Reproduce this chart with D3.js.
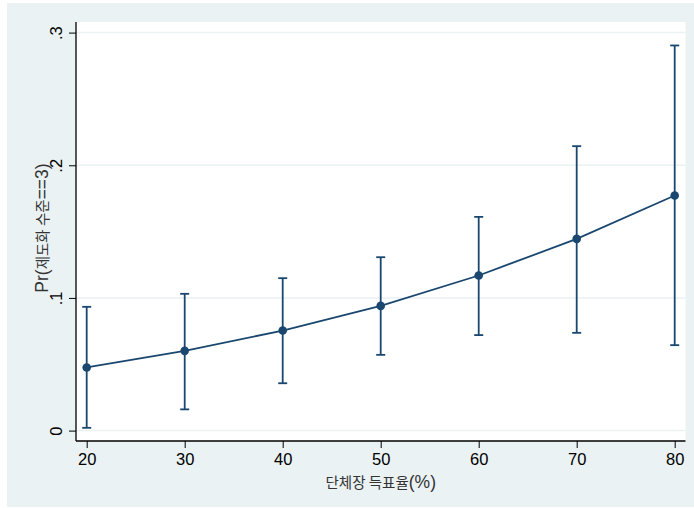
<!DOCTYPE html>
<html>
<head>
<meta charset="utf-8">
<script src="https://cdn.jsdelivr.net/npm/d3@7"></script>
<style>
  html, body { margin: 0; padding: 0; background: #ffffff; }
  svg { display: block; }
  text { font-family: "Liberation Sans", Arial, "Noto Sans CJK KR", sans-serif; }
</style>
</head>
<body>
<svg id="chart" width="694" height="508"></svg>
<script>
// Predicted probability of institutionalisation level 3 by vote share, with 95% CIs
const voteShare = [20, 30, 40, 50, 60, 70, 80];
const prob      = [0.0476, 0.0601, 0.0754, 0.0940, 0.1169, 0.1445, 0.1772];
const ciLow     = [0.0021, 0.0160, 0.0357, 0.0571, 0.0720, 0.0737, 0.0644];
const ciHigh    = [0.0933, 0.1031, 0.1149, 0.1307, 0.1611, 0.2144, 0.2903];
const xTicks    = [20, 30, 40, 50, 60, 70, 80];
const yTicks    = [0, 0.1, 0.2, 0.3];
const yTickText = ["0", ".1", ".2", ".3"];
// axis titles split into Latin / Hangul runs so each can get its own size
const xTitleParts = [["단체장 득표율", "ko"], ["(%)", "latin"]];
const yTitleParts = [["Pr(", "latin"], ["제도화 수준", "ko"], ["==3)", "latin"]];

const navy = "#1a476f";
const bg = "#eaf2f3";

const svg = d3.select("#chart");

// graph region
svg.append("rect").attr("x", 7).attr("y", 3).attr("width", 687).attr("height", 504).attr("fill", bg);

// plot region
const plot = { left: 76, right: 685.5, top: 22, bottom: 441 };
svg.append("rect")
  .attr("x", plot.left).attr("y", plot.top)
  .attr("width", plot.right - plot.left).attr("height", plot.bottom - plot.top)
  .attr("fill", "#ffffff");

const x = d3.scaleLinear().domain([20, 80]).range([86.7, 674.7]);
const y = d3.scaleLinear().domain([0, 0.3]).range([430.6, 32.6]);

// horizontal gridlines
svg.append("g").selectAll("line").data(yTicks).join("line")
  .attr("x1", plot.left).attr("x2", plot.right)
  .attr("y1", d => y(d)).attr("y2", d => y(d))
  .attr("stroke", bg).attr("stroke-width", 1.5);

// y axis
const yAxis = d3.axisLeft(y).tickValues(yTicks)
  .tickFormat((d, i) => yTickText[i]).tickSize(7).tickPadding(0);
const gy = svg.append("g").attr("transform", `translate(${plot.left},0)`).call(yAxis);
gy.select(".domain").attr("d", `M0,${plot.top}V${plot.bottom}`).attr("stroke", "#000").attr("stroke-width", 1.3);
gy.selectAll(".tick line").attr("stroke", "#000").attr("stroke-width", 1);
gy.selectAll(".tick text")
  .attr("font-size", 16.5).attr("fill", "#000")
  .attr("text-anchor", "middle").attr("dy", null)
  .attr("transform", "translate(-18,0) rotate(-90)")
  .attr("x", 0).attr("y", 0).attr("dominant-baseline", "middle");

// x axis
const xAxis = d3.axisBottom(x).tickValues(xTicks).tickSize(7).tickPadding(5);
const gx = svg.append("g").attr("transform", `translate(0,${plot.bottom})`).call(xAxis);
gx.select(".domain").attr("d", `M${plot.left},0H${plot.right}`).attr("stroke", "#000").attr("stroke-width", 1.3);
gx.selectAll(".tick line").attr("stroke", "#000").attr("stroke-width", 1);
gx.selectAll(".tick text").attr("font-size", 16.5).attr("fill", "#000");

// axis titles
function addRuns(textSel, parts) {
  textSel.selectAll("tspan").data(parts).join("tspan")
    .attr("font-family", d => d[1] === "ko" ? "'Noto Sans CJK KR', sans-serif" : "'Liberation Sans', Arial, sans-serif")
    .attr("font-size", d => d[1] === "ko" ? 14.5 : 17.5)
    .text(d => d[0]);
}
const xt = svg.append("text")
  .attr("x", (plot.left + plot.right) / 2).attr("y", 488)
  .attr("text-anchor", "middle").attr("fill", "#333");
addRuns(xt, xTitleParts);

const yt = svg.append("text")
  .attr("transform", `translate(47.5,228) rotate(-90)`)
  .attr("text-anchor", "middle").attr("fill", "#333");
addRuns(yt, yTitleParts);

const data = voteShare.map((v, i) => ({ x: v, p: prob[i], lo: ciLow[i], hi: ciHigh[i] }));

// confidence intervals with caps
const ci = svg.append("g").attr("stroke", navy).attr("stroke-width", 1.8).attr("fill", "none");
ci.selectAll(".bar").data(data).join("line")
  .attr("x1", d => x(d.x)).attr("x2", d => x(d.x))
  .attr("y1", d => y(d.lo)).attr("y2", d => y(d.hi));
ci.selectAll(".capHi").data(data).join("line")
  .attr("x1", d => x(d.x) - 4.5).attr("x2", d => x(d.x) + 4.5)
  .attr("y1", d => y(d.hi)).attr("y2", d => y(d.hi));
ci.selectAll(".capLo").data(data).join("line")
  .attr("x1", d => x(d.x) - 4.5).attr("x2", d => x(d.x) + 4.5)
  .attr("y1", d => y(d.lo)).attr("y2", d => y(d.lo));

// connecting line
svg.append("path").datum(data)
  .attr("fill", "none").attr("stroke", navy).attr("stroke-width", 1.8)
  .attr("d", d3.line().x(d => x(d.x)).y(d => y(d.p)));

// point markers
svg.append("g").selectAll("circle").data(data).join("circle")
  .attr("cx", d => x(d.x)).attr("cy", d => y(d.p)).attr("r", 4.3)
  .attr("fill", navy);
</script>
</body>
</html>
